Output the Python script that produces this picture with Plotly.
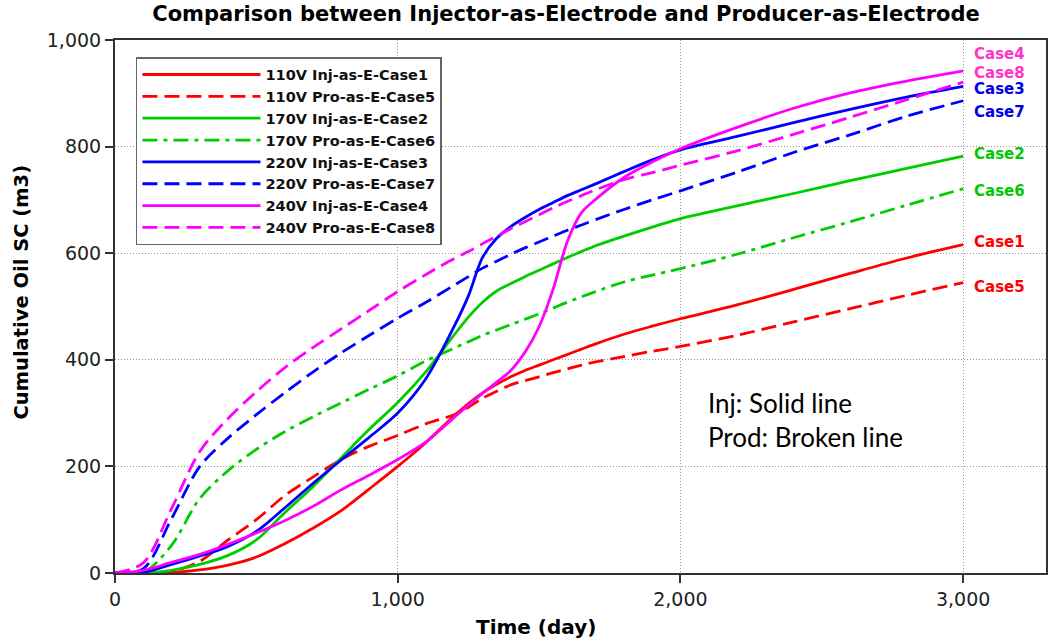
import plotly.graph_objects as go

# ---------------- data ----------------
DAYS = [0, 100, 200, 300, 400, 500, 600, 700, 800, 900, 1000, 1100, 1200, 1250, 1300,
        1350, 1400, 1450, 1500, 1550, 1600, 1650, 1700, 1800, 1900, 2000, 2200, 2400, 2600, 2800, 3000]

CASE1 = [0, 0, 1, 6, 15, 30, 55, 84, 117, 158, 200, 245, 295, 318, 338,
         354, 368, 380, 390, 400, 410, 420, 430, 448, 463, 477, 503, 532, 562, 591, 616]
CASE5 = [0, 0, 3, 22, 62, 100, 145, 180, 213, 238, 258, 280, 297, 311, 328,
         341, 353, 361, 368, 376, 383, 390, 396, 406, 416, 425, 446, 471, 496, 521, 545]
CASE2 = [0, 0, 5, 16, 33, 62, 113, 162, 216, 270, 320, 378, 447, 480, 508,
         529, 543, 556, 568, 580, 592, 603, 614, 632, 649, 665, 689, 712, 736, 759, 782]
CASE6 = [0, 1, 52, 140, 192, 232, 265, 293, 319, 345, 370, 398, 422, 434, 446,
         456, 466, 476, 486, 497, 508, 518, 528, 546, 559, 571, 598, 629, 659, 690, 721]
CASE3 = [0, 1, 16, 32, 50, 78, 122, 168, 212, 255, 300, 365, 463, 520, 592,
         628, 650, 667, 682, 695, 708, 719, 730, 753, 775, 794, 819, 845, 870, 893, 913]
CASE7 = [0, 8, 102, 200, 253, 297, 338, 377, 413, 446, 478, 508, 540, 556, 572,
         585, 598, 610, 621, 632, 643, 653, 663, 682, 700, 717, 752, 789, 822, 857, 886]
CASE4 = [0, 5, 20, 35, 54, 75, 98, 125, 156, 184, 213, 246, 292, 315, 337,
         358, 380, 414, 462, 533, 622, 676, 701, 742, 771, 796, 836, 872, 901, 923, 942]
CASE8 = [0, 19, 121, 228, 290, 340, 385, 423, 458, 493, 528, 560, 590, 603, 618,
         632, 646, 659, 672, 685, 697, 708, 719, 738, 751, 765, 792, 823, 855, 888, 921]

SERIES_NAMES = ["110V Inj-as-E-Case1", "110V Pro-as-E-Case5",
                "170V Inj-as-E-Case2", "170V Pro-as-E-Case6",
                "220V Inj-as-E-Case3", "220V Pro-as-E-Case7",
                "240V Inj-as-E-Case4", "240V Pro-as-E-Case8"]
SERIES_VALUES = [CASE1, CASE5, CASE2, CASE6, CASE3, CASE7, CASE4, CASE8]

END_LABELS = ["Case4", "Case8", "Case3", "Case7", "Case2", "Case6", "Case1", "Case5"]
END_LABEL_Y = [973, 939, 909, 864, 786, 716, 621, 536]

X_TICKS = [0, 1000, 2000, 3000]
Y_TICKS = [0, 200, 400, 600, 800, 1000]

# ---------------- styles ----------------
RED, GREEN, BLUE, MAGENTA = "#FF0000", "#00CC00", "#0000FF", "#FF00FF"
LONG_DASH = "15px,7px"
DASH_DOT = "15px,6px,4px,6px"
STYLES = [(RED, "solid"), (RED, LONG_DASH),
          (GREEN, "solid"), (GREEN, DASH_DOT),
          (BLUE, "solid"), (BLUE, LONG_DASH),
          (MAGENTA, "solid"), (MAGENTA, LONG_DASH)]
LABEL_COLORS = {"Case4": "#FF33CC", "Case8": "#FF33CC", "Case3": "#0000E6", "Case7": "#0000E6",
                "Case2": "#00C800", "Case6": "#00C800", "Case1": "#FF0000", "Case5": "#FF0000"}

BOLD = "DejaVu Sans"

fig = go.Figure()
for name, vals, (col, dash) in zip(SERIES_NAMES, SERIES_VALUES, STYLES):
    fig.add_trace(go.Scatter(
        x=DAYS, y=vals, name=name, mode="lines",
        line=dict(color=col, width=2.8, dash=dash, shape="spline", smoothing=0.9),
    ))

for lab, yv in zip(END_LABELS, END_LABEL_Y):
    fig.add_annotation(x=3030, y=yv, text=lab, showarrow=False, xanchor="left", yanchor="middle",
                       font=dict(family=BOLD, size=15, color=LABEL_COLORS[lab], weight="bold"))

fig.add_annotation(x=2090, y=352, text="Inj: Solid line<br>Prod: Broken line", showarrow=False,
                   xanchor="left", yanchor="top", align="left",
                   font=dict(family="Lato", size=26, color="black"))

# axis titles (placed as in the reference, slightly off-centre)
fig.add_annotation(xref="paper", yref="paper", x=0.452, y=-0.101, text="<b>Time (day)</b>",
                   showarrow=False, xanchor="center", yanchor="middle",
                   font=dict(family=BOLD, size=20, color="black"))
fig.add_annotation(xref="paper", yref="paper", x=-0.1, y=0.528, text="<b>Cumulative Oil SC (m3)</b>",
                   showarrow=False, xanchor="center", yanchor="middle", textangle=-90,
                   font=dict(family=BOLD, size=19.5, color="black"))

axis_common = dict(
    showline=True, linecolor="#333333", linewidth=2, mirror=True,
    ticks="outside", ticklen=8, tickwidth=2, tickcolor="#333333",
    showgrid=True, gridcolor="#999999", griddash="1px,2px", gridwidth=1,
    zeroline=False, tickformat=",",
    tickfont=dict(family="DejaVu Sans", size=19, color="#222222"),
)

fig.update_xaxes(range=[0, 3293], tickvals=X_TICKS, **axis_common)
fig.update_yaxes(range=[0, 1000], tickvals=Y_TICKS, **axis_common)

fig.update_layout(
    width=1052, height=643,
    margin=dict(l=115, r=4, t=40, b=70, pad=0),
    plot_bgcolor="white", paper_bgcolor="white",
    title=dict(text="Comparison between Injector-as-Electrode and Producer-as-Electrode",
               x=0.538, xanchor="center", y=0.978, yanchor="middle", yref="container",
               font=dict(family=BOLD, size=21, color="black", weight="bold")),
    legend=dict(x=0.0225, y=0.968, xanchor="left", yanchor="top",
                bgcolor="white", bordercolor="#666666", borderwidth=1.5,
                font=dict(family=BOLD, size=14.5, color="#111111", weight="bold"),
                tracegroupgap=0, itemwidth=118),
    showlegend=True,
)

fig.write_html("out.html")
